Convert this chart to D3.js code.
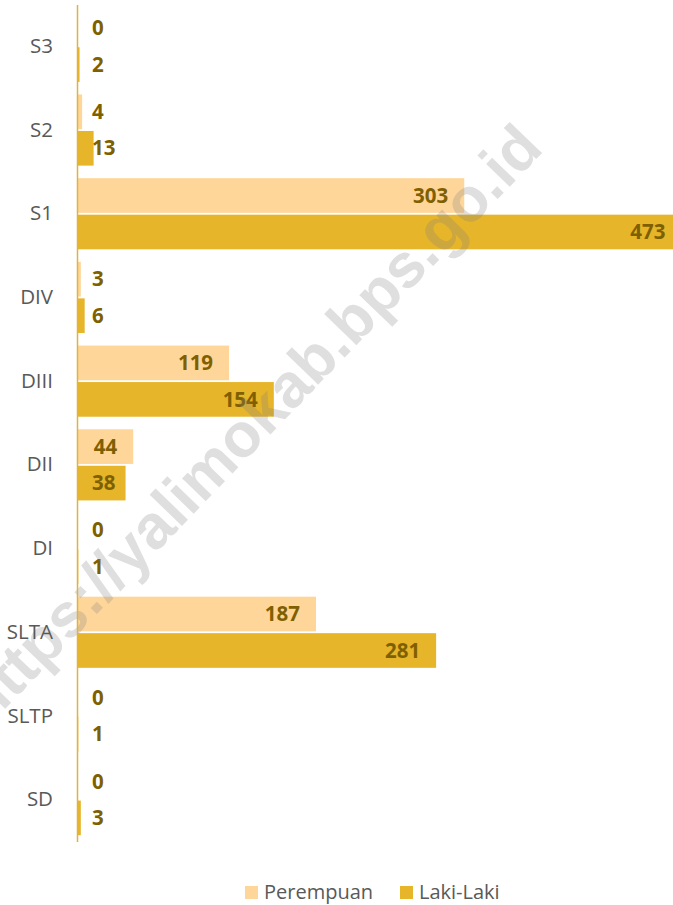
<!DOCTYPE html>
<html>
<head>
<meta charset="utf-8">
<script src="https://cdn.jsdelivr.net/npm/d3@7"></script>
<style>
  body { margin: 0; background: #fff; }
  svg { display: block; font-family: "Open Sans", "Noto Sans", sans-serif; }
</style>
</head>
<body>
<div id="chart"></div>
<script>
var categories = ["S3", "S2", "S1", "DIV", "DIII", "DII", "DI", "SLTA", "SLTP", "SD"];
var perempuan = [0, 4, 303, 3, 119, 44, 0, 187, 0, 0];
var lakiLaki = [2, 13, 473, 6, 154, 38, 1, 281, 1, 3];
var seriesNames = ["Perempuan", "Laki-Laki"];
var seriesColors = ["#FFD699", "#E6B52A"];

var width = 673, height = 905;
var axisX = 77;

var svg = d3.select("#chart").append("svg")
  .attr("width", width)
  .attr("height", height);

var x = d3.scaleLinear().domain([0, 500]).range([axisX, axisX + 639]);
var y = d3.scaleBand().domain(categories).range([4.5, 841.5]).paddingInner(0.15).paddingOuter(0.075);
var sub = d3.scaleBand().domain([0, 1]).range([0, y.bandwidth()]).paddingInner(0.05);

var rows = categories.map(function(c, i){
  return { cat: c, values: [perempuan[i], lakiLaki[i]] };
});

var groups = svg.append("g").selectAll("g")
  .data(rows)
  .enter()
  .append("g")
  .attr("transform", function(d){ return "translate(0," + y(d.cat) + ")"; });

groups.selectAll("rect")
  .data(function(d){ return d.values; })
  .enter()
  .append("rect")
  .attr("x", x(0))
  .attr("y", function(d, i){ return sub(i); })
  .attr("height", sub.bandwidth())
  .attr("width", function(d){ return x(d) - x(0); })
  .attr("fill", function(d, i){ return seriesColors[i]; });

// watermark sits under the value labels
svg.append("text")
  .attr("transform", "translate(545,150) rotate(-46)")
  .attr("text-anchor", "end")
  .attr("font-family", "'Liberation Sans', Arial, sans-serif")
  .attr("font-weight", "bold")
  .attr("font-size", "62px")
  .attr("fill", "#808080")
  .attr("fill-opacity", 0.25)
  .text("https://yalimokab.bps.go.id");

groups.selectAll("text")
  .data(function(d){ return d.values; })
  .enter()
  .append("text")
  .attr("y", function(d, i){ return sub(i) + sub.bandwidth() / 2; })
  .attr("dy", "0.35em")
  .attr("fill", "#7F6000")
  .attr("font-weight", "bold")
  .attr("font-size", "20.5px")
  .text(function(d){ return d; })
  .each(function(d){
    var w = this.getComputedTextLength();
    var start = x(d) - 16 - w;
    if(start < axisX + 15) start = axisX + 15;
    d3.select(this).attr("x", start);
  });
groups.raise();

// category axis
var axis = svg.append("g")
  .attr("transform", "translate(" + axisX + ",0)")
  .call(d3.axisLeft(y).tickSize(0).tickPadding(24));
axis.select(".domain").attr("stroke", "#DDB440").attr("stroke-width", 1.5);
axis.selectAll("text")
  .attr("fill", "#595959")
  .attr("font-size", "20.5px")
  .attr("font-family", "'Open Sans', sans-serif");

// legend
var legendX = [245, 400];
var legend = svg.append("g").selectAll("g")
  .data(seriesNames)
  .enter()
  .append("g")
  .attr("transform", function(d, i){ return "translate(" + legendX[i] + ",886)"; });
legend.append("rect")
  .attr("width", 13).attr("height", 13)
  .attr("fill", function(d, i){ return seriesColors[i]; });
legend.append("text")
  .attr("x", 19)
  .attr("y", 13)
  .attr("fill", "#595959")
  .attr("font-size", "20px")
  .text(function(d){ return d; });
</script>
</body>
</html>
